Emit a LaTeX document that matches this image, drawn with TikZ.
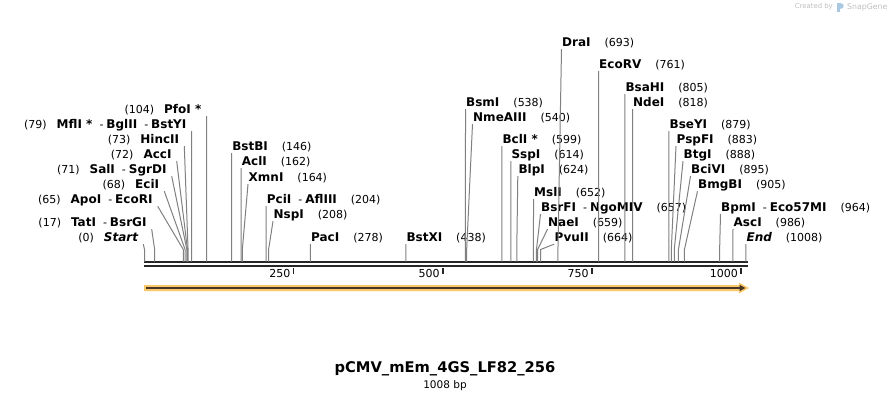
\documentclass[tikz,border=0pt]{standalone}
\usepackage{fontspec}
\setmainfont{DejaVu Sans}
\usepackage{tikz}
\usetikzlibrary{arrows.meta, positioning}

\definecolor{cutgray}{RGB}{128,128,128}
\definecolor{featorange}{RGB}{251,199,104}
\definecolor{featdark}{RGB}{70,55,40}
\definecolor{creditgray}{RGB}{190,190,190}
\definecolor{logoblue}{RGB}{170,200,225}

\newcommand{\enzname}[1]{{\fontsize{12}{14}\selectfont\bfseries #1}}
\newcommand{\enzsep}{\hspace{7pt}-\hspace{3pt}}

\tikzset{
    sitelabel/.style={inner ysep=3pt, text depth=0pt, font=\fontsize{11}{13}\selectfont, text=black},
    siteright/.style={sitelabel, anchor=base west, inner xsep=0.5pt},
    siteleft/.style={sitelabel, anchor=base east, inner xsep=5pt},
    cutline/.style={draw=cutgray, line width=1pt},
    seqbar/.style={draw=black!85, line width=2.3pt},
    tickmark/.style={draw=black!85, line width=1.5pt},
    ticklabel/.style={anchor=base east, inner sep=0pt, font=\fontsize{11}{13}\selectfont},
    featline/.style={draw=featdark, line width=2pt, -{Triangle[length=6pt, width=6pt]}},
    maptitle/.style={font=\fontsize{14.7}{17}\selectfont\bfseries, inner sep=0pt},
    mapsize/.style={font=\fontsize{10.5}{12}\selectfont, inner sep=0pt},
    credit/.style={text=creditgray, inner sep=0pt, font=\fontsize{#1}{9}\selectfont}
}

\begin{document}
\begin{tikzpicture}[x=1pt, y=-1pt]
\useasboundingbox (0,0) rectangle (892,400);

\foreach \n/\p in {Start/0, TatI/17, ApoI/65, EciI/68, SalI/71, AccI/72, HincII/73, MflI/79, PfoI/104,
    BstBI/146, AclI/162, XmnI/164, PciI/204, NspI/208, PacI/278, BstXI/438, BsmI/538, NmeAIII/540,
    BclI/599, SspI/614, BlpI/624, MslI/652, BsrFI/657, NaeI/659, PvuII/664, DraI/693, EcoRV/761,
    BsaHI/805, NdeI/818, BseYI/879, PspFI/883, BtgI/888, BciVI/895, BmgBI/905, BpmI/964, AscI/986, End/1008}
    \coordinate (c\n) at ({144.5+\p*0.5966},261.5);

\draw[seqbar] (144,262.3) -- (747.5,262.3);
\draw[seqbar] (144,266.3) -- (747.5,266.3);
\foreach \t in {250,500,750,1000}
    \draw[tickmark] ({144.5+\t*0.5966},268) -- ++(0,6) node[ticklabel, xshift=-2.5pt, yshift=-3pt] (t\t) {\t};

\fill[featorange] (144,285) -- (739,285) -- (739,282.5) -- (749,288) -- (739,293.5) -- (739,291) -- (144,291) -- cycle;
\draw[featline] (146,288) -- (745.5,288);

\node[siteleft] (lPfoI) at (206.5,113) {(104)\hspace{10pt}\enzname{PfoI *}};
\node[siteleft] (lMflI) at (191.6,128) {(79)\hspace{10pt}\enzname{MflI *}\enzsep\enzname{BglII}\enzsep\enzname{BstYI}};
\node[siteleft] (lHincII) at (184.3,143) {(73)\hspace{10pt}\enzname{HincII}};
\node[siteleft] (lAccI) at (176.7,158) {(72)\hspace{10pt}\enzname{AccI}};
\node[siteleft] (lSalI) at (171.7,173) {(71)\hspace{10pt}\enzname{SalI}\enzsep\enzname{SgrDI}};
\node[siteleft] (lEciI) at (164.3,188) {(68)\hspace{10pt}\enzname{EciI}};
\node[siteleft] (lApoI) at (157.7,203) {(65)\hspace{10pt}\enzname{ApoI}\enzsep\enzname{EcoRI}};
\node[siteleft] (lTatI) at (151.7,226) {(17)\hspace{10pt}\enzname{TatI}\enzsep\enzname{BsrGI}};
\node[siteleft] (lStart) at (143.3,241) {(0)\hspace{10pt}\enzname{\itshape Start}};

\node[siteright] (lBstBI) at (231.6,150) {\enzname{BstBI}\hspace{14pt}(146)};
\node[siteright] (lAclI) at (241.2,165) {\enzname{AclI}\hspace{14pt}(162)};
\node[siteright] (lXmnI) at (248,181) {\enzname{XmnI}\hspace{14pt}(164)};
\node[siteright] (lPciI) at (266.2,203) {\enzname{PciI}\enzsep\enzname{AflIII}\hspace{14pt}(204)};
\node[siteright] (lNspI) at (273,218) {\enzname{NspI}\hspace{14pt}(208)};
\node[siteright] (lPacI) at (310.4,241) {\enzname{PacI}\hspace{14pt}(278)};
\node[siteright] (lBstXI) at (405.8,241) {\enzname{BstXI}\hspace{14pt}(438)};
\node[siteright] (lBsmI) at (465.5,106) {\enzname{BsmI}\hspace{14pt}(538)};
\node[siteright] (lNmeAIII) at (472.5,121) {\enzname{NmeAIII}\hspace{14pt}(540)};
\node[siteright] (lBclI) at (501.9,143) {\enzname{BclI *}\hspace{14pt}(599)};
\node[siteright] (lSspI) at (510.8,158) {\enzname{SspI}\hspace{14pt}(614)};
\node[siteright] (lBlpI) at (517.8,173) {\enzname{BlpI}\hspace{14pt}(624)};
\node[siteright] (lMslI) at (533.5,196) {\enzname{MslI}\hspace{14pt}(652)};
\node[siteright] (lBsrFI) at (540.5,211) {\enzname{BsrFI}\enzsep\enzname{NgoMIV}\hspace{14pt}(657)};
\node[siteright] (lNaeI) at (547.5,226) {\enzname{NaeI}\hspace{14pt}(659)};
\node[siteright] (lPvuII) at (554,241) {\enzname{PvuII}\hspace{14pt}(664)};
\node[siteright] (lDraI) at (561.5,46) {\enzname{DraI}\hspace{14pt}(693)};
\node[siteright] (lEcoRV) at (598.5,68) {\enzname{EcoRV}\hspace{14pt}(761)};
\node[siteright] (lBsaHI) at (624.8,91) {\enzname{BsaHI}\hspace{14pt}(805)};
\node[siteright] (lNdeI) at (632.5,106) {\enzname{NdeI}\hspace{14pt}(818)};
\node[siteright] (lBseYI) at (668.9,128) {\enzname{BseYI}\hspace{14pt}(879)};
\node[siteright] (lPspFI) at (676,143) {\enzname{PspFI}\hspace{14pt}(883)};
\node[siteright] (lBtgI) at (683,158) {\enzname{BtgI}\hspace{14pt}(888)};
\node[siteright] (lBciVI) at (690.5,173) {\enzname{BciVI}\hspace{14pt}(895)};
\node[siteright] (lBmgBI) at (697.5,188) {\enzname{BmgBI}\hspace{14pt}(905)};
\node[siteright] (lBpmI) at (720.5,211) {\enzname{BpmI}\enzsep\enzname{Eco57MI}\hspace{14pt}(964)};
\node[siteright] (lAscI) at (733,226) {\enzname{AscI}\hspace{14pt}(986)};
\node[siteright] (lEnd) at (745.9,241) {\enzname{\itshape End}\hspace{14pt}(1008)};

\foreach \n in {PfoI, MflI, HincII, AccI, SalI, EciI, ApoI, TatI, Start}
    \draw[cutline] (c\n) -- ++(0,-12) -- (l\n.south east);
\foreach \n in {BstBI, AclI, XmnI, PciI, NspI, PacI, BstXI, BsmI, NmeAIII, BclI, SspI, BlpI, MslI, BsrFI,
    NaeI, PvuII, DraI, EcoRV, BsaHI, NdeI, BseYI, PspFI, BtgI, BciVI, BmgBI, BpmI, AscI, End}
    \draw[cutline] (c\n) -- ++(0,-12) -- (l\n.south west);

\node[maptitle] (title) at (445,369) {pCMV\_mEm\_4GS\_LF82\_256};
\node[mapsize, below=4pt of title] (size) {1008 bp};

\node[credit=6.9, anchor=east] (created) at (833,7) {Created by};
\fill[logoblue] (837,3) rectangle (839.5,12);
\fill[logoblue] (839.5,3) .. controls (845,3) and (845,9) .. (839.5,9) -- cycle;
\node[credit=7.8, anchor=west] (snapgene) at (847,7) {SnapGene};

\end{tikzpicture}
\end{document}
